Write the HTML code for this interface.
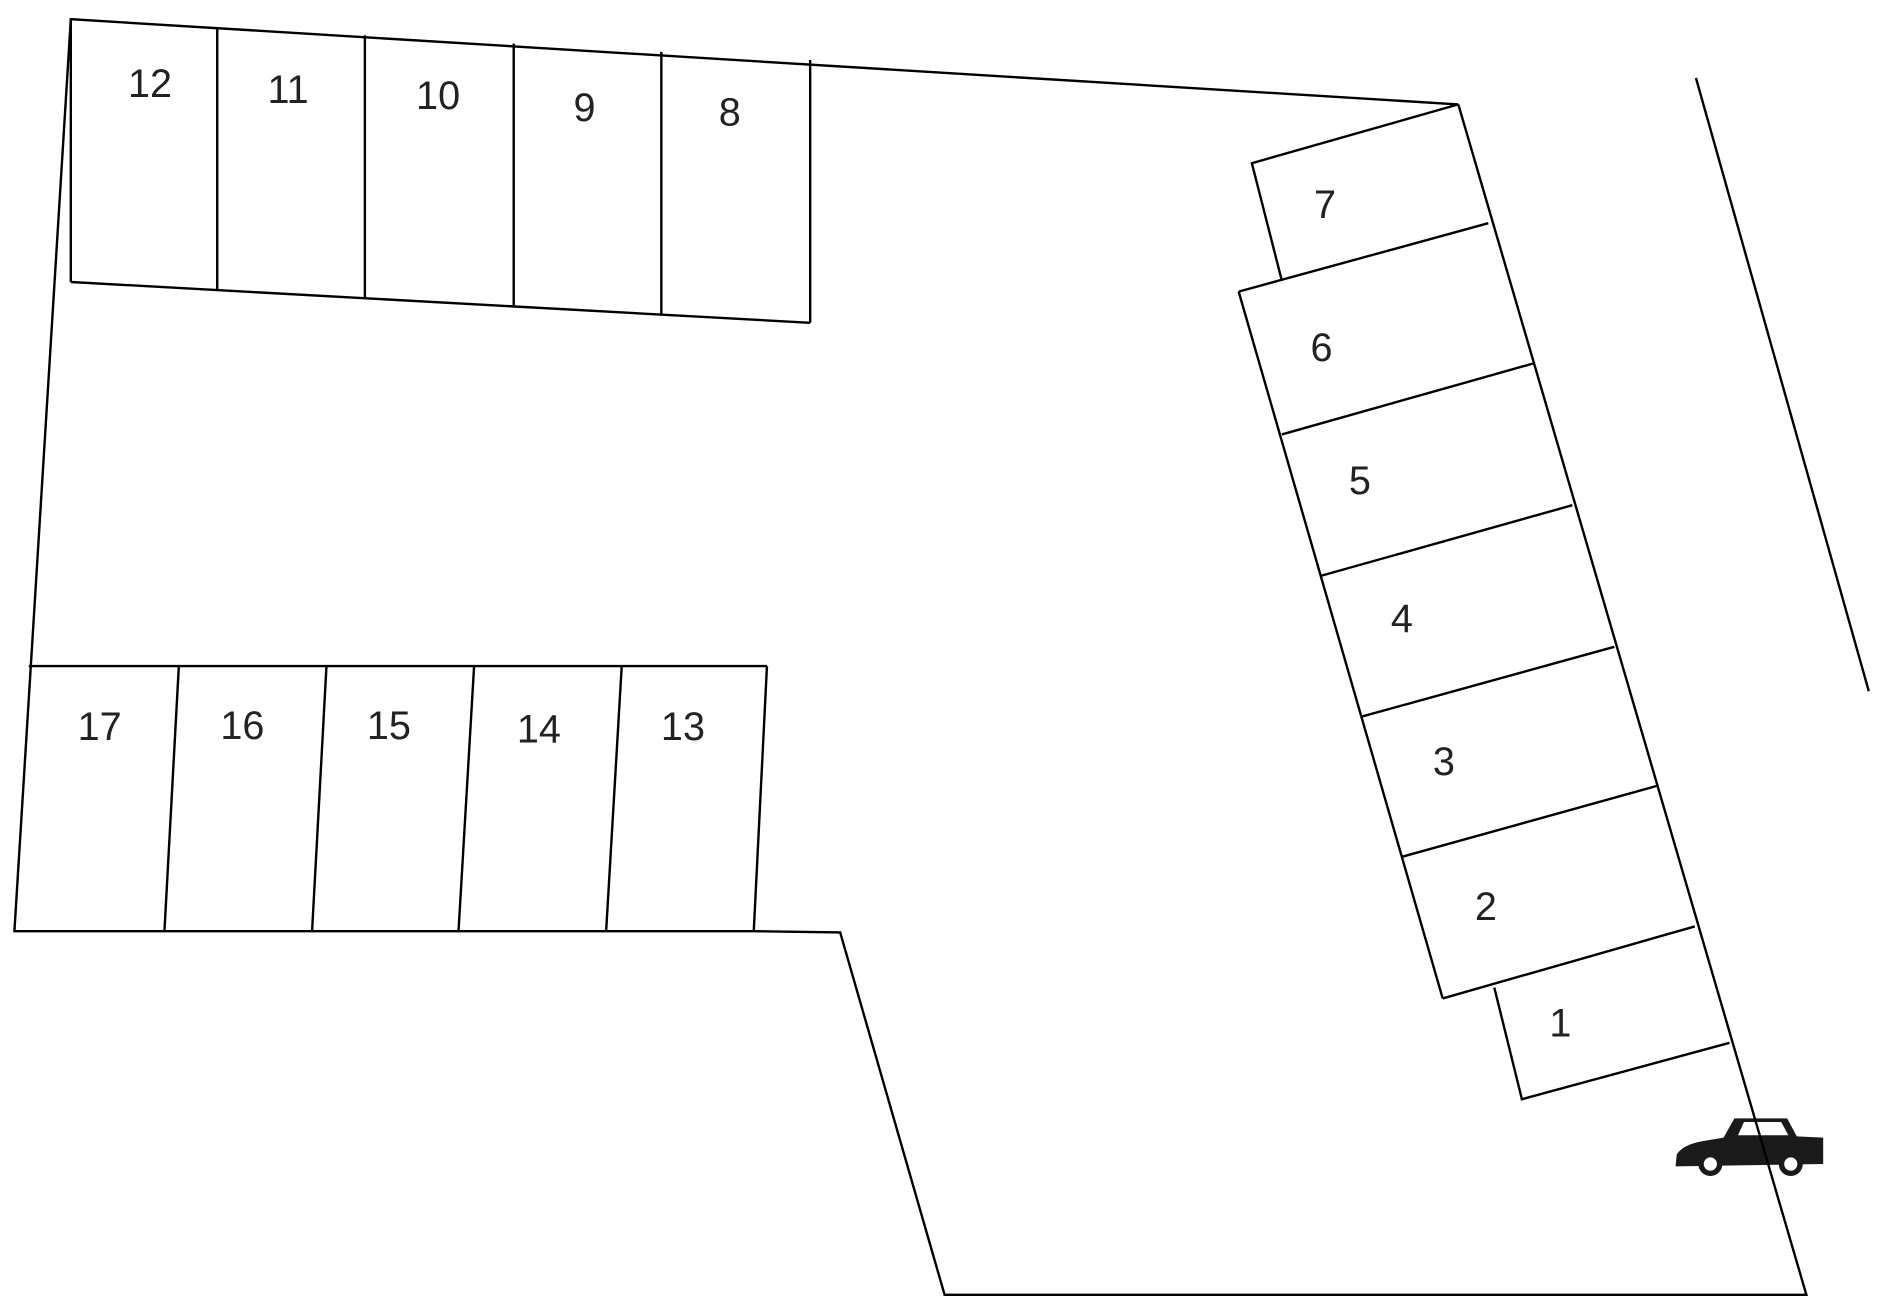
<!DOCTYPE html>
<html><head><meta charset="utf-8"><style>
html,body{margin:0;padding:0;background:#fff;}
svg{display:block;}
text{font-family:"Liberation Sans","DejaVu Sans",sans-serif;font-size:33px;fill:#222;text-anchor:middle;dominant-baseline:middle;}
</style></head><body>
<svg width="1882" height="1312" viewBox="0 0 1568 1093.3" preserveAspectRatio="none" xmlns="http://www.w3.org/2000/svg">
<!-- car -->
<g>
<path d="M1396,972 L1397,962 Q1402,954 1418,951 L1436,948 L1445,932 L1489,932 L1497,947 L1519,948 L1519,970 Z" fill="#1a1a1a"/>
<path d="M1448,946 L1453,935 L1484,935 L1490,946 Z" fill="#fff"/>
<circle cx="1425" cy="970" r="10" fill="#1a1a1a"/>
<circle cx="1425" cy="970" r="5.5" fill="#fff"/>
<circle cx="1492" cy="970" r="10" fill="#1a1a1a"/>
<circle cx="1492" cy="970" r="5.5" fill="#fff"/>
</g>
<g fill="none" stroke="#000" stroke-width="2">
<!-- outer boundary -->
<polyline points="1215,87 59,16 12,776 628,776 700,777 787,1079 1505,1079 1215,87"/>
<!-- top row -->
<line x1="59" y1="16" x2="59" y2="235"/>
<line x1="59" y1="235" x2="675" y2="269"/>
<line x1="181" y1="22.7" x2="181" y2="241.7"/>
<line x1="304" y1="29.5" x2="304" y2="248.5"/>
<line x1="428" y1="36.4" x2="428" y2="255.4"/>
<line x1="551" y1="43.2" x2="551" y2="262.2"/>
<line x1="675" y1="50" x2="675" y2="269"/>
<!-- bottom row -->
<line x1="24" y1="555" x2="639" y2="555"/>
<line x1="149" y1="555" x2="137" y2="776"/>
<line x1="272" y1="555" x2="260" y2="776"/>
<line x1="395" y1="555" x2="382" y2="776"/>
<line x1="518" y1="555" x2="505" y2="776"/>
<line x1="639" y1="555" x2="628" y2="776"/>
<!-- right column -->
<polyline points="1215,87 1043,136 1068,234"/>
<line x1="1032" y1="243" x2="1240" y2="186"/>
<line x1="1032" y1="243" x2="1202" y2="832"/>
<line x1="1068" y1="362" x2="1277" y2="303"/>
<line x1="1100" y1="480" x2="1310" y2="421"/>
<line x1="1135" y1="597" x2="1345" y2="539"/>
<line x1="1168" y1="714" x2="1380" y2="655"/>
<line x1="1202" y1="832" x2="1412" y2="772"/>
<polyline points="1245,823 1268,916 1441,869"/>
<!-- road line -->
<line x1="1413" y1="65" x2="1557" y2="576"/>
</g>
<!-- labels -->
<text x="125" y="72">12</text>
<text x="240" y="77">11</text>
<text x="365" y="82">10</text>
<text x="487" y="92">9</text>
<text x="608" y="96">8</text>
<text x="83" y="608">17</text>
<text x="202" y="607">16</text>
<text x="324" y="607">15</text>
<text x="449" y="610">14</text>
<text x="569" y="608">13</text>
<text x="1104" y="173">7</text>
<text x="1101" y="292">6</text>
<text x="1133" y="403">5</text>
<text x="1168" y="518">4</text>
<text x="1203" y="637">3</text>
<text x="1238" y="758">2</text>
<text x="1300" y="855">1</text>
</svg>
</body></html>
